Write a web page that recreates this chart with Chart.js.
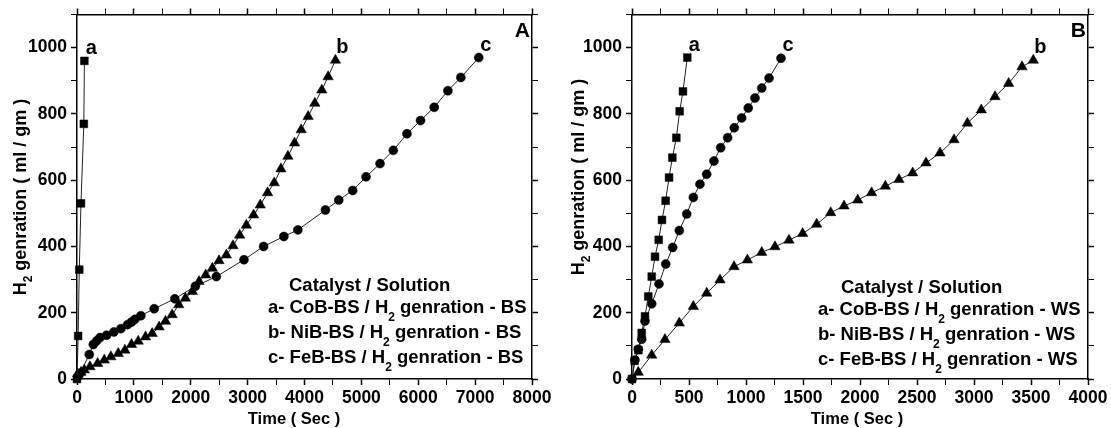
<!DOCTYPE html>
<html>
<head>
<meta charset="utf-8">
<script src="https://cdn.jsdelivr.net/npm/chart.js@4.4.0/dist/chart.umd.min.js"></script>
<style>
  html, body { margin: 0; padding: 0; background: #fff; }
  #wrap { position: relative; width: 1111px; height: 428px; }
  canvas { position: absolute; top: 0; }
</style>
</head>
<body>
<div id="wrap">
  <canvas id="chartA" width="555" height="428" style="left:0"></canvas>
  <canvas id="chartB" width="556" height="428" style="left:555px"></canvas>
</div>
<script>
// ---- Panel A (BS solution) ----
const aCoTime = [0, 20, 40, 70, 120, 130];
const aCoVal  = [0, 130, 330, 530, 770, 960];
const aNiTime = [12, 70, 129, 228, 363, 480, 596, 725, 842, 959, 1076, 1205, 1322, 1444, 1556, 1673, 1789, 1906, 2029, 2146,
                 2263, 2380, 2497, 2626, 2743, 2860, 2977, 3105, 3222, 3351, 3468, 3585, 3708, 3825, 3942, 4064, 4181, 4304, 4415, 4544];
const aNiVal  = [15, 20, 27, 37, 47, 57, 67, 77, 87, 104, 114, 127, 137, 157, 174, 194, 224, 244, 264, 294,
                 314, 334, 357, 374, 402, 434, 464, 495, 525, 562, 592, 634, 672, 712, 752, 792, 832, 872, 912, 962];
const aFeTime = [20, 53, 216, 287, 345, 404, 520, 649, 772, 889, 959, 1018, 1123, 1357, 1719, 2082, 2450, 2936, 3281, 3637,
                 3883, 4368, 4602, 4848, 5082, 5328, 5561, 5801, 6040, 6281, 6521, 6749, 7064];
const aFeVal  = [8, 17, 74, 104, 115, 125, 132, 142, 152, 164, 172, 180, 191, 212, 242, 280, 309, 360, 400, 430,
                 450, 510, 540, 569, 610, 650, 690, 740, 780, 820, 870, 910, 970];

// ---- Panel B (WS solution) ----
const bCoTime = [0, 23, 56, 85, 114, 143, 173, 202, 234, 263, 295, 325, 354, 389, 418, 447, 485];
const bCoVal  = [0, 55, 87, 139, 189, 249, 309, 369, 420, 480, 538, 608, 668, 728, 808, 868, 970];
const bNiTime = [55, 173, 289, 415, 538, 655, 772, 895, 1012, 1138, 1254, 1377, 1497, 1620, 1743, 1860, 1980, 2102, 2222, 2342,
                 2462, 2579, 2702, 2825, 2942, 3064, 3184, 3304, 3421, 3520];
const bNiVal  = [20, 72, 119, 169, 219, 259, 299, 339, 359, 382, 399, 419, 439, 467, 502, 522, 540, 562, 582, 602,
                 622, 652, 682, 722, 772, 812, 852, 892, 942, 962];
const bFeTime = [0, 26, 55, 85, 114, 173, 237, 296, 357, 415, 480, 538, 596, 655, 719, 778, 839, 897, 962, 1020,
                 1079, 1138, 1202, 1307];
const bFeVal  = [0, 57, 90, 120, 175, 227, 287, 347, 397, 448, 498, 548, 588, 618, 658, 698, 728, 758, 788, 818,
                 848, 878, 908, 968];

const yTicksMax = 1100;
const legendRows = ["a- CoB-BS", "b- NiB-BS", "c- FeB-BS"];

const FONT = '"Liberation Sans", Arial, sans-serif';

function pts(t, v) {
    return t.map((x, i) => ({ x: x, y: v[i] }));
}

// draw text made of [text, size, dy] pieces
function drawParts(ctx, parts, x, y) {
    let cx = x;
    parts.forEach(([txt, size, dy]) => {
        ctx.font = `bold ${size}px ${FONT}`;
        ctx.fillText(txt, cx, y + (dy || 0));
        cx += ctx.measureText(txt).width;
    });
}

function partsWidth(ctx, parts) {
    let w = 0;
    parts.forEach(([txt, size]) => {
        ctx.font = `bold ${size}px ${FONT}`;
        w += ctx.measureText(txt).width;
    });
    return w;
}

const textPlugin = {
    id: "panelText",
    afterDraw(chart, args, opts) {
        const ctx = chart.ctx;
        const area = chart.chartArea;
        ctx.save();
        ctx.fillStyle = "#000";
        ctx.textBaseline = "alphabetic";

        // series tags near the last point
        ctx.textAlign = "center";
        ctx.font = `bold 20px ${FONT}`;
        chart.data.datasets.forEach((ds, i) => {
            const meta = chart.getDatasetMeta(i);
            const last = meta.data[meta.data.length - 1];
            ctx.fillText(ds.tag, last.x + 7, last.y - 7);
        });

        // panel letter
        ctx.textAlign = "right";
        ctx.font = `bold 21px ${FONT}`;
        ctx.fillText(opts.panel, area.right - 2, area.top + 22);

        // legend block
        ctx.textAlign = "left";
        ctx.font = `bold 18.5px ${FONT}`;
        ctx.fillText("Catalyst / Solution", area.left + opts.titleX, opts.legendY);
        legendRows.forEach((row, i) => {
            drawParts(ctx, [
                [row + " / H", 18.5, 0],
                ["2", 12, 8],
                [" genration - " + opts.sol, 18.5, 0],
            ], area.left + opts.rowX, opts.legendY + 22 + i * 25);
        });

        // x title
        ctx.textAlign = "center";
        ctx.font = `bold 16.5px ${FONT}`;
        ctx.fillText("Time ( Sec )", opts.xTitleX, 424);

        // y title (rotated)
        const yParts = [["H", 18, 0], ["2", 12, 6], [" genration ( ml / gm )", 18, 0]];
        ctx.translate(opts.yTitleX, opts.yTitleY);
        ctx.rotate(-Math.PI / 2);
        ctx.textAlign = "left";
        const w = partsWidth(ctx, yParts);
        drawParts(ctx, yParts, -w / 2, 6);
        ctx.restore();
    },
};

function makePanel(canvasId, series, xMax, xStep, xLabelStep, canvasW, text) {
    const tickFont = { family: FONT, weight: "bold", size: 17.5 };
    const grid = (labelStep) => ({
        display: true,
        drawOnChartArea: false,
        drawTicks: true,
        tickLength: 6,
        tickColor: "#000",
        tickWidth: (c) => (c.tick && c.tick.value % labelStep === 0 ? 1.5 : 1),
    });
    const border = { display: true, color: "#000", width: 1.5 };

    return new Chart(document.getElementById(canvasId), {
        type: "scatter",
        data: {
            datasets: series.map((s) => ({
                tag: s.tag,
                data: pts(s.t, s.v),
                showLine: true,
                borderColor: "#222",
                borderWidth: 1,
                pointStyle: s.style,
                pointRadius: s.r,
                pointBackgroundColor: "#000",
                pointBorderColor: "#000",
                pointBorderWidth: 0.5,
                clip: false,
            })),
        },
        options: {
            responsive: false,
            animation: false,
            layout: { padding: 0 },
            plugins: {
                legend: { display: false },
                tooltip: { enabled: false },
                panelText: text,
            },
            scales: {
                x: {
                    type: "linear", position: "bottom", min: 0, max: xMax,
                    border: border, grid: grid(xLabelStep),
                    ticks: {
                        stepSize: xStep, autoSkip: false, maxRotation: 0, padding: 3,
                        color: "#000", font: tickFont,
                        callback: (v) => (v % xLabelStep === 0 ? v : ""),
                    },
                    afterFit: (s) => { s.height = 49; },
                },
                x2: {
                    type: "linear", position: "top", min: 0, max: xMax,
                    border: border, grid: grid(xLabelStep),
                    ticks: { stepSize: xStep, autoSkip: false, display: false },
                    afterFit: (s) => { s.height = 13; },
                },
                y: {
                    type: "linear", position: "left", min: 0, max: yTicksMax,
                    border: border, grid: grid(200),
                    ticks: {
                        stepSize: 100, autoSkip: false, padding: 4,
                        color: "#000", font: tickFont,
                        callback: (v) => (v % 200 === 0 ? v : ""),
                    },
                    afterFit: (s) => { s.width = 77; },
                },
                y2: {
                    type: "linear", position: "right", min: 0, max: yTicksMax,
                    border: border, grid: grid(200),
                    ticks: { stepSize: 100, autoSkip: false, display: false },
                    afterFit: (s) => { s.width = canvasW - (canvasW === 555 ? 532 : 533); },
                },
            },
        },
        plugins: [textPlugin],
    });
}

makePanel("chartA", [
    { tag: "a", t: aCoTime, v: aCoVal, style: "rect", r: 5.5 },
    { tag: "b", t: aNiTime, v: aNiVal, style: "triangle", r: 6 },
    { tag: "c", t: aFeTime, v: aFeVal, style: "circle", r: 4.5 },
], 8000, 500, 1000, 555, {
    panel: "A", sol: "BS", titleX: 212, rowX: 191, legendY: 291,
    xTitleX: 294, yTitleX: 20, yTitleY: 197,
});

makePanel("chartB", [
    { tag: "a", t: bCoTime, v: bCoVal, style: "rect", r: 5.5 },
    { tag: "b", t: bNiTime, v: bNiVal, style: "triangle", r: 6 },
    { tag: "c", t: bFeTime, v: bFeVal, style: "circle", r: 4.5 },
], 4000, 250, 500, 556, {
    panel: "B", sol: "WS", titleX: 209, rowX: 186, legendY: 293,
    xTitleX: 302, yTitleX: 23, yTitleY: 177,
});
</script>
</body>
</html>
